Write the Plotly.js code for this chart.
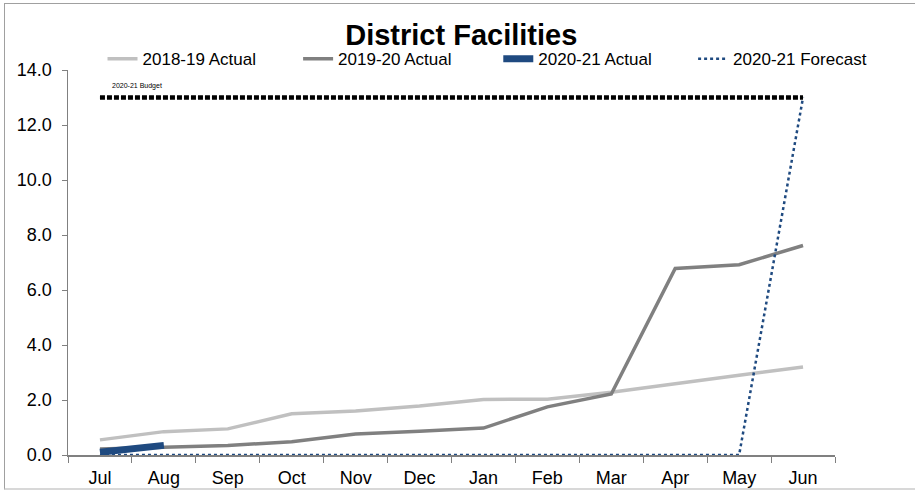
<!DOCTYPE html>
<html><head><meta charset="utf-8">
<script src="https://cdn.plot.ly/plotly-3.0.1.min.js"></script>
<style>
html,body{margin:0;padding:0;background:#fff;}
#frame{position:absolute;left:4px;top:3px;width:911px;height:487px;border:1px solid #a0a0a0;border-right:none;border-bottom:2px solid #d8d8d8;box-sizing:border-box;}
#chart{position:absolute;left:0;top:0;width:917px;height:493px;}
</style>
</head><body>
<div id="frame"></div>
<div id="chart"></div>
<script>
const months = ["Jul","Aug","Sep","Oct","Nov","Dec","Jan","Feb","Mar","Apr","May","Jun"];
const actual1819 = [0.55,0.85,0.95,1.5,1.6,1.78,2.02,2.03,2.28,2.6,2.9,3.2];
const actual1920 = [0.22,0.3,0.35,0.48,0.76,0.86,0.98,1.75,2.22,6.78,6.92,7.62];
const actual2021 = [0.1,0.35];
const forecast2021 = [0,0,0,0,0,0,0,0,0,0,0,13.0];
const budget2021 = [13,13,13,13,13,13,13,13,13,13,13,13];

const traces = [
  {x:months, y:actual1819, name:"2018-19 Actual", type:"scatter", mode:"lines",
   line:{color:"#c0c0c0", width:3.5}, legend:"legend"},
  {x:months, y:actual1920, name:"2019-20 Actual", type:"scatter", mode:"lines",
   line:{color:"#808080", width:3.5}, legend:"legend2"},
  {x:months.slice(0,actual2021.length), y:actual2021, name:"2020-21 Actual", type:"scatter", mode:"lines",
   line:{color:"#1f4a80", width:7}, legend:"legend3"},
  {x:months, y:forecast2021, name:"2020-21 Forecast", type:"scatter", mode:"lines",
   line:{color:"#1f4a80", width:2.5, dash:"dot"}, legend:"legend4"},
  {x:months, y:budget2021, name:"2020-21 Budget", type:"scatter", mode:"lines",
   line:{color:"#000000", width:4.5, dash:"5px,2px"}, showlegend:false}
];

function leg(x){
  return {orientation:"h", x:x, xanchor:"left", y:1.028, yanchor:"middle",
          font:{size:17, color:"#000"}, bgcolor:"rgba(0,0,0,0)", borderwidth:0};
}

const layout = {
  width:917, height:493,
  margin:{l:68, r:82, t:70, b:38},
  paper_bgcolor:"rgba(0,0,0,0)", plot_bgcolor:"rgba(0,0,0,0)",
  font:{family:"Liberation Sans, Arial, sans-serif", size:18, color:"#000"},
  title:{text:"<b>District Facilities</b>", font:{size:29, color:"#000"},
         x:0.503, xanchor:"center", y:0.93, yanchor:"middle", yref:"container"},
  xaxis:{type:"category", range:[-0.5,11.5], showgrid:false, zeroline:false,
         showline:true, linecolor:"#808080", linewidth:1.5,
         ticks:"outside", tickson:"boundaries", ticklen:6, tickcolor:"#808080",
         tickfont:{size:18}, ticklabelstandoff:6},
  yaxis:{range:[0,14], dtick:2, tickformat:".1f", showgrid:false, zeroline:false,
         showline:true, linecolor:"#808080", linewidth:1.5,
         ticks:"outside", ticklen:5, tickcolor:"#808080", tickfont:{size:18},
         ticklabelstandoff:6},
  showlegend:true,
  legend:leg(0.045),
  legend2:leg(0.300),
  legend3:leg(0.561),
  legend4:leg(0.815),
  annotations:[
    {text:"2020-21 Budget", xref:"paper", x:0.055, xanchor:"left",
     yref:"y", y:13.42, yanchor:"middle", showarrow:false, font:{size:7, color:"#000"}}
  ]
};
Plotly.newPlot("chart", traces, layout, {displayModeBar:false, staticPlot:true});
</script>
</body></html>
